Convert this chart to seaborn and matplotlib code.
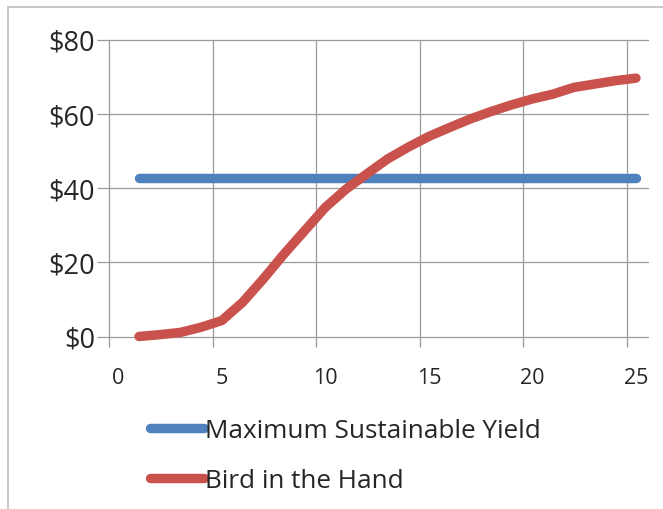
import matplotlib
matplotlib.use("Agg")
import matplotlib.pyplot as plt
from matplotlib.patches import Rectangle
import seaborn as sns
import pandas as pd

# Year index and the two value series (dollars)
years = list(range(1, 26))
msy = [42.6, 42.6, 42.6, 42.6, 42.6, 42.6, 42.6, 42.6, 42.6, 42.6,
       42.6, 42.6, 42.6, 42.6, 42.6, 42.6, 42.6, 42.6, 42.6, 42.6,
       42.6, 42.6, 42.6, 42.6, 42.6]
bird = [0.0, 0.5, 1.1, 2.5, 4.3, 9.2, 15.5, 22.2, 28.5, 34.8,
        39.7, 43.8, 47.8, 51.0, 53.9, 56.3, 58.6, 60.6, 62.4, 64.0,
        65.3, 67.1, 68.0, 68.9, 69.6]
series_names = ["Maximum Sustainable Yield", "Bird in the Hand"]
series_colors = ["#4F81BD", "#C9524D"]
x_ticks = [0, 5, 10, 15, 20, 25]
y_ticks = [0, 20, 40, 60, 80]
y_labels = ["$0", "$20", "$40", "$60", "$80"]

df = pd.DataFrame({
    "year": years * 2,
    "value": msy + bird,
    "series": [series_names[0]] * len(years) + [series_names[1]] * len(years),
})

sns.set_theme(style="white")
plt.rcParams["font.family"] = ["Open Sans", "DejaVu Sans"]

W, H = 663, 510
fig = plt.figure(figsize=(W / 100, H / 100), dpi=100)
ax = fig.add_axes([109 / W, (H - 337.5) / H, 539 / W, 297 / H])

# outer chart-area frame
fig.patches.append(Rectangle((8 / W, -0.1), 1.2, (H - 8) / H + 0.1,
                             transform=fig.transFigure, fill=False,
                             edgecolor="#c8c8c8", linewidth=1.4))

sns.lineplot(data=df, x="year", y="value", hue="series",
             palette=dict(zip(series_names, series_colors)),
             linewidth=6.8, ax=ax, solid_capstyle="round", clip_on=False,
             zorder=5)

# category-style axis: labels on the categories, gridlines between them
ax.set_xlim(-0.45, 25.58)
ax.set_ylim(0, 80)
ax.set_xticks(x_ticks)
ax.set_xticklabels([str(t) for t in x_ticks])
grid_x = [t - 0.45 for t in x_ticks]
ax.set_xticks(grid_x, minor=True)
ax.set_yticks(y_ticks)
ax.set_yticklabels(y_labels)

ax.grid(False)
grid_color = "#9a9a9a"
for gx in grid_x:
    ax.axvline(gx, color=grid_color, linewidth=0.9, clip_on=False, zorder=1)
for gy in y_ticks:
    ax.axhline(gy, color=grid_color, linewidth=0.9, clip_on=False, zorder=1)
for s in ax.spines.values():
    s.set_visible(False)

ax.tick_params(axis="x", which="major", length=0, pad=22,
               labelsize=15.5, labelcolor="#262626")
ax.tick_params(axis="x", which="minor", length=7, width=0.9,
               color=grid_color, bottom=True)
ax.tick_params(axis="y", which="major", length=9, width=0.9,
               color=grid_color, left=True, pad=1,
               labelsize=19.5, labelcolor="#262626")
ax.set_xlabel("")
ax.set_ylabel("")

handles, labels = ax.get_legend_handles_labels()
ax.legend(handles, labels, loc="upper left",
          bbox_to_anchor=(150 / W, 1 - 419 / H), bbox_transform=fig.transFigure,
          frameon=False, fontsize=18.8, handlelength=2.05, handletextpad=0.05,
          labelspacing=0.95, borderpad=0, borderaxespad=0)
leg = ax.get_legend()
for line in leg.get_lines():
    line.set_linewidth(6.8)
    line.set_solid_capstyle("round")
for t in leg.get_texts():
    t.set_color("#262626")

fig.savefig("out.png", dpi=100)
